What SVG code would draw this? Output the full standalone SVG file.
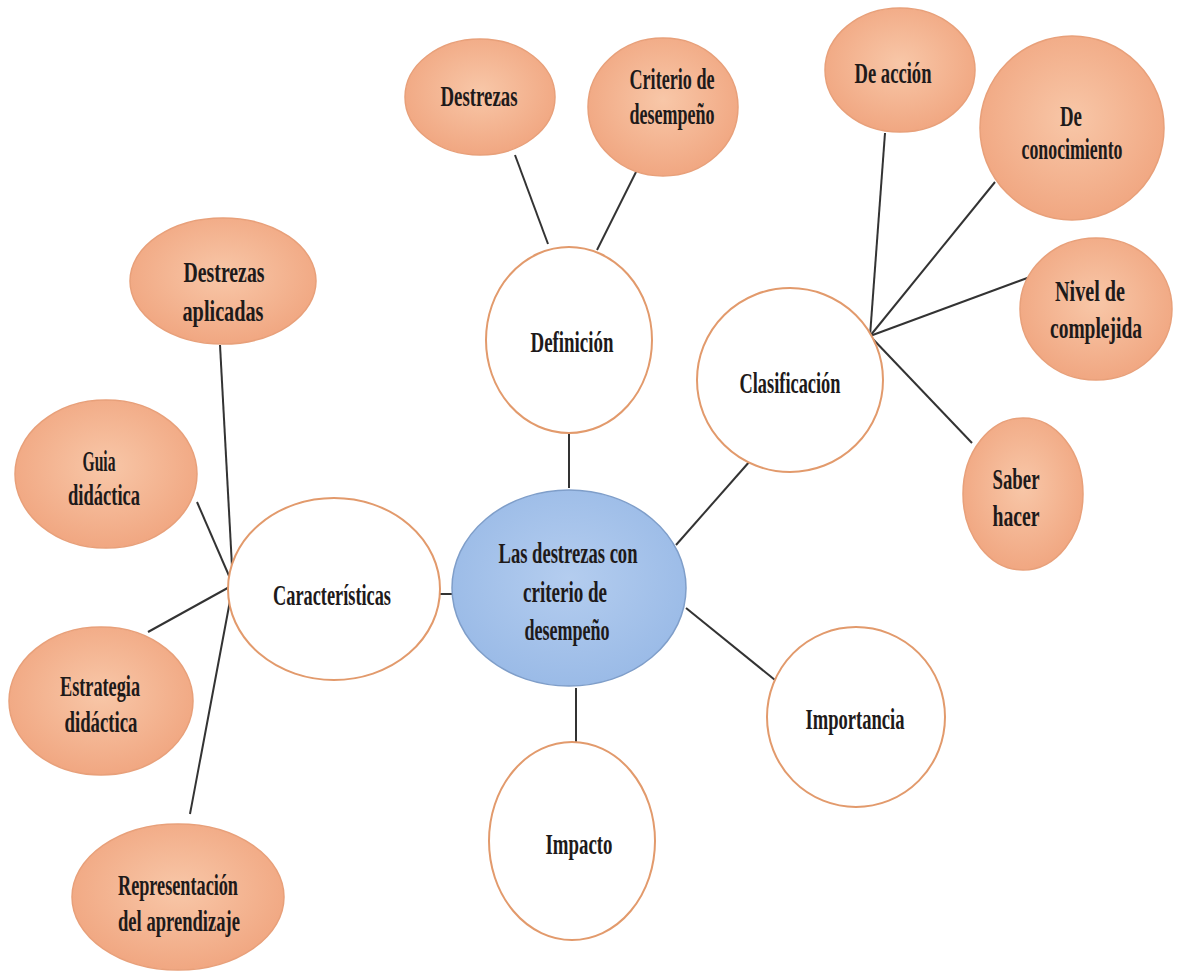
<svg xmlns="http://www.w3.org/2000/svg" width="1186" height="974" viewBox="0 0 1186 974">
<defs>
<radialGradient id="og" cx="50%" cy="45%" r="60%">
<stop offset="0" stop-color="#f8c7a8"/>
<stop offset="1" stop-color="#f0a47e"/>
</radialGradient>
<radialGradient id="bg" cx="50%" cy="45%" r="60%">
<stop offset="0" stop-color="#b4cdef"/>
<stop offset="1" stop-color="#98b9e6"/>
</radialGradient>
<style>
.o{fill:url(#og);stroke:#e8a07a;stroke-width:1.5}
.w{fill:#fff;stroke:#e29a6c;stroke-width:2}
.b{fill:url(#bg);stroke:#7f9ec9;stroke-width:1.5}
.t{font-family:"Liberation Serif","Times New Roman",serif;font-weight:bold;font-size:29px;fill:#1e1a1a;text-anchor:middle}
.c line{stroke:#333;stroke-width:2}
</style>
</defs>
<rect width="1186" height="974" fill="#fff"/>
<g class="c" id="connectors">
<line x1="515" y1="155" x2="548" y2="244"/>
<line x1="638" y1="168" x2="597" y2="250"/>
<line x1="569" y1="432" x2="569" y2="488"/>
<line x1="676" y1="545" x2="750" y2="461"/>
<line x1="885" y1="133" x2="870" y2="336"/>
<line x1="995" y1="182" x2="870" y2="336"/>
<line x1="1030" y1="277" x2="870" y2="336"/>
<line x1="870" y1="336" x2="972" y2="443"/>
<line x1="686" y1="608" x2="775" y2="680"/>
<line x1="576" y1="688" x2="576" y2="742"/>
<line x1="452" y1="594" x2="440" y2="594"/>
<line x1="220" y1="345" x2="233" y2="585"/>
<line x1="197" y1="502" x2="233" y2="585"/>
<line x1="148" y1="632" x2="233" y2="585"/>
<line x1="233" y1="585" x2="190" y2="814"/>
</g>
<g id="center"><ellipse class="b" cx="569" cy="588" rx="117" ry="98"/>
<text class="t" x="568" y="563" textLength="139" lengthAdjust="spacingAndGlyphs">Las destrezas con</text>
<text class="t" x="565" y="602" textLength="84" lengthAdjust="spacingAndGlyphs">criterio de</text>
<text class="t" x="567" y="640" textLength="85" lengthAdjust="spacingAndGlyphs">desempeño</text></g>
<g id="definicion"><ellipse class="w" cx="569" cy="340" rx="83" ry="93"/>
<text class="t" x="572" y="352" textLength="83" lengthAdjust="spacingAndGlyphs">Definición</text></g>
<g id="destrezas"><ellipse class="o" cx="480" cy="97" rx="75" ry="58"/>
<text class="t" x="479" y="106" textLength="77" lengthAdjust="spacingAndGlyphs">Destrezas</text></g>
<g id="criterio"><ellipse class="o" cx="663" cy="107" rx="75" ry="69"/>
<text class="t" x="672" y="89" textLength="85" lengthAdjust="spacingAndGlyphs">Criterio de</text>
<text class="t" x="672" y="124" textLength="85" lengthAdjust="spacingAndGlyphs">desempeño</text></g>
<g id="clasificacion"><ellipse class="w" cx="790" cy="380" rx="93" ry="92"/>
<text class="t" x="790" y="393" textLength="101" lengthAdjust="spacingAndGlyphs">Clasificación</text></g>
<g id="deaccion"><ellipse class="o" cx="900" cy="70" rx="75" ry="62"/>
<text class="t" x="893" y="83" textLength="77" lengthAdjust="spacingAndGlyphs">De acción</text></g>
<g id="deconocimiento"><ellipse class="o" cx="1072" cy="128" rx="92" ry="92"/>
<text class="t" x="1071" y="126" textLength="22" lengthAdjust="spacingAndGlyphs">De</text>
<text class="t" x="1072" y="159" textLength="101" lengthAdjust="spacingAndGlyphs">conocimiento</text></g>
<g id="nivel"><ellipse class="o" cx="1096" cy="309" rx="76" ry="71"/>
<text class="t" x="1090" y="301" textLength="70" lengthAdjust="spacingAndGlyphs">Nivel de</text>
<text class="t" x="1096" y="338" textLength="92" lengthAdjust="spacingAndGlyphs">complejida</text></g>
<g id="saber"><ellipse class="o" cx="1023" cy="494" rx="60" ry="76"/>
<text class="t" x="1016" y="489" textLength="47" lengthAdjust="spacingAndGlyphs">Saber</text>
<text class="t" x="1016" y="526" textLength="47" lengthAdjust="spacingAndGlyphs">hacer</text></g>
<g id="importancia"><ellipse class="w" cx="856" cy="717" rx="89" ry="90"/>
<text class="t" x="855" y="729" textLength="99" lengthAdjust="spacingAndGlyphs">Importancia</text></g>
<g id="impacto"><ellipse class="w" cx="572" cy="841" rx="83" ry="99"/>
<text class="t" x="579" y="854" textLength="67" lengthAdjust="spacingAndGlyphs">Impacto</text></g>
<g id="caracteristicas"><ellipse class="w" cx="334" cy="589" rx="106" ry="91"/>
<text class="t" x="332" y="605" textLength="118" lengthAdjust="spacingAndGlyphs">Características</text></g>
<g id="aplicadas"><ellipse class="o" cx="223" cy="281" rx="93" ry="63"/>
<text class="t" x="224" y="282" textLength="81" lengthAdjust="spacingAndGlyphs">Destrezas</text>
<text class="t" x="223" y="321" textLength="81" lengthAdjust="spacingAndGlyphs">aplicadas</text></g>
<g id="guia"><ellipse class="o" cx="106" cy="474" rx="91" ry="74"/>
<text class="t" x="99" y="471" textLength="33" lengthAdjust="spacingAndGlyphs">Guia</text>
<text class="t" x="104" y="505" textLength="72" lengthAdjust="spacingAndGlyphs">didáctica</text></g>
<g id="estrategia"><ellipse class="o" cx="101" cy="701" rx="92" ry="74"/>
<text class="t" x="100" y="696" textLength="80" lengthAdjust="spacingAndGlyphs">Estrategia</text>
<text class="t" x="101" y="732" textLength="73" lengthAdjust="spacingAndGlyphs">didáctica</text></g>
<g id="representacion"><ellipse class="o" cx="178" cy="897" rx="106" ry="73"/>
<text class="t" x="178" y="895" textLength="120" lengthAdjust="spacingAndGlyphs">Representación</text>
<text class="t" x="179" y="931" textLength="122" lengthAdjust="spacingAndGlyphs">del aprendizaje</text></g>
</svg>
